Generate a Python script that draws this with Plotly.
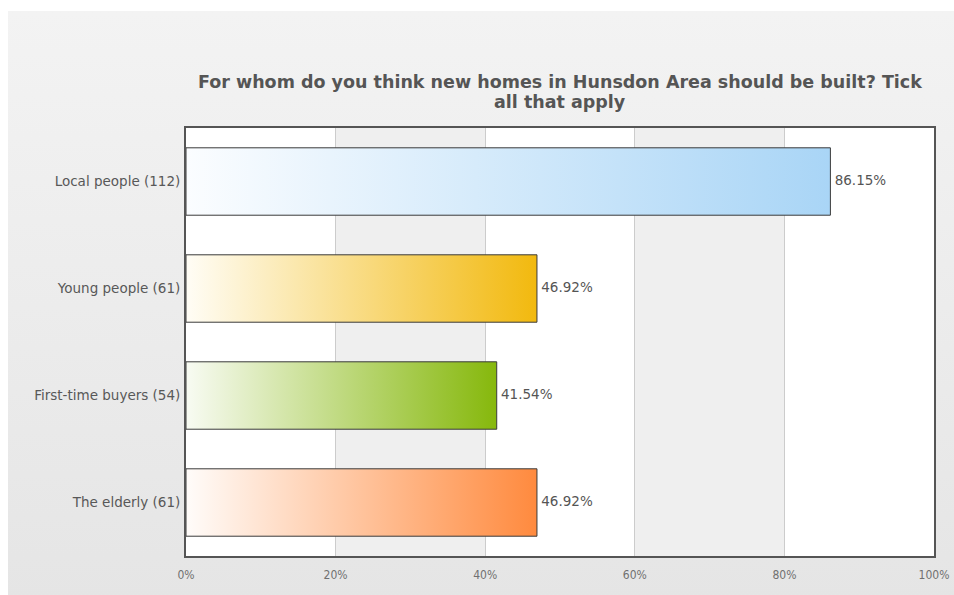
import base64
import plotly.graph_objects as go

categories = ["Local people (112)", "Young people (61)", "First-time buyers (54)", "The elderly (61)"]
values = [86.15, 46.92, 41.54, 46.92]
labels = ["86.15%", "46.92%", "41.54%", "46.92%"]
end_colors = ["#a9d5f6", "#f2b90e", "#86b80c", "#ff8a3e"]
start_colors = ["#fbfdff", "#fffdf6", "#f8fbf3", "#fffcfa"]
x_ticks = [0, 20, 40, 60, 80, 100]
x_tick_text = ["0%", "20%", "40%", "60%", "80%", "100%"]
title_lines = ["For whom do you think new homes in Hunsdon Area should be built? Tick",
               "all that apply"]

half = 0.315
fig = go.Figure()
for i, (cat, v) in enumerate(zip(categories, values)):
    fig.add_trace(go.Scatter(
        x=[0, v, v, 0, 0],
        y=[i - half, i - half, i + half, i + half, i - half],
        mode="lines",
        fill="toself",
        fillgradient=dict(type="horizontal",
                          colorscale=[[0, start_colors[i]], [1, end_colors[i]]]),
        line=dict(color="#3a3a3a", width=1),
        name=cat,
        hoverinfo="skip",
        showlegend=False,
    ))

fig.add_trace(go.Scatter(
    x=values, y=list(range(len(values))), mode="text",
    text=[" " + t for t in labels], textposition="middle right",
    textfont=dict(family="DejaVu Sans", size=13.5, color="#555555"),
    showlegend=False, hoverinfo="skip", cliponaxis=False,
))

# alternating white / grey vertical bands inside the plot area
shapes = []
for a, b, c in [(0, 20, "white"), (20, 40, "#efefef"), (40, 60, "white"),
                (60, 80, "#efefef"), (80, 100, "white")]:
    shapes.append(dict(type="rect", xref="x", yref="paper", x0=a, x1=b, y0=0, y1=1,
                       fillcolor=c, line=dict(width=0), layer="below"))

# soft vertical gradient for the chart panel background
svg = ('<svg xmlns="http://www.w3.org/2000/svg" width="100" height="100" '
       'viewBox="0 0 100 100" preserveAspectRatio="none"><defs>'
       '<linearGradient id="g" x1="0" y1="0" x2="0" y2="1">'
       '<stop offset="0" stop-color="#f3f3f3"/><stop offset="1" stop-color="#e5e5e5"/>'
       '</linearGradient></defs><rect width="100" height="100" fill="url(#g)"/></svg>')
bg_src = "data:image/svg+xml;base64," + base64.b64encode(svg.encode()).decode()
images = [dict(
    source=bg_src, xref="paper", yref="paper",
    x=(8 - 186) / 748, y=(556 - 11) / 428,
    sizex=(960 - 8) / 748, sizey=(600 - 11) / 428,
    xanchor="left", yanchor="top", sizing="stretch", layer="below",
)]

annotations = []
for line, py in zip(title_lines, [82, 102]):
    annotations.append(dict(
        text="<b>" + line + "</b>", xref="paper", yref="paper",
        x=0.5, y=(556 - py) / 428, xanchor="center", yanchor="middle",
        showarrow=False,
        font=dict(family="DejaVu Sans", size=17.5, color="#555555"),
    ))

fig.update_layout(
    width=954, height=595,
    margin=dict(l=186, r=20, t=128, b=39, autoexpand=False),
    paper_bgcolor="white",
    plot_bgcolor="white",
    shapes=shapes,
    images=images,
    annotations=annotations,
    font=dict(family="DejaVu Sans", color="#555555", size=13),
)
fig.update_xaxes(
    range=[0, 100], tickvals=x_ticks, ticktext=x_tick_text,
    showgrid=True, gridcolor="#cccccc", gridwidth=1, zeroline=False,
    showline=True, mirror=True, linecolor="#555555", linewidth=2,
    ticks="outside", ticklen=7, tickcolor="rgba(0,0,0,0)",
    tickfont=dict(family="DejaVu Sans Condensed", size=12, color="#707070"),
    fixedrange=True, automargin=False,
)
fig.update_yaxes(
    range=[len(categories) - 0.5, -0.5], tickvals=list(range(len(categories))),
    ticktext=categories, showgrid=False, zeroline=False,
    showline=True, mirror=True, linecolor="#555555", linewidth=2,
    ticks="outside", ticklen=1, tickcolor="rgba(0,0,0,0)",
    tickfont=dict(family="DejaVu Sans", size=13.5, color="#585858"),
    fixedrange=True, automargin=False,
)

fig.write_html(
    "out.html",
    config={"displayModeBar": False, "responsive": False},
    post_script=("document.documentElement.style.overflow='hidden';"
                 "document.body.style.margin='0';document.body.style.overflow='hidden';"),
)
